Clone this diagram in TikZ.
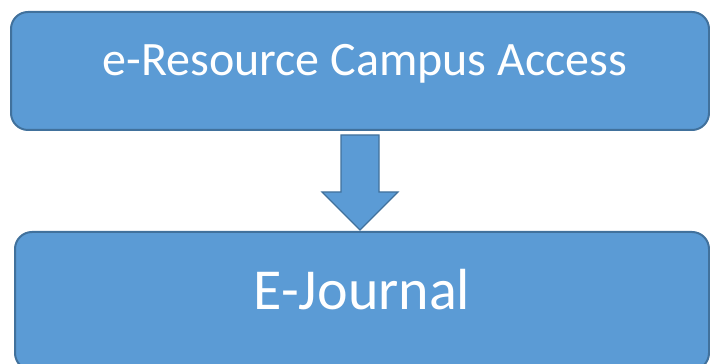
\documentclass[tikz,border=0pt]{standalone}
\usepackage{fontspec}
\setmainfont{Carlito}
\definecolor{boxfill}{HTML}{5B9BD5}
\definecolor{boxline}{HTML}{41719C}
\begin{document}
\begin{tikzpicture}[x=1pt,y=1pt,
  blockbox/.style={draw=boxline,fill=boxfill,line width=2pt,rounded corners=17pt},
  lbl/.style={text=white,inner sep=0pt}]
\useasboundingbox (0,0) rectangle (710,364);
\clip (0,0) rectangle (710,364);
\draw[blockbox] (11,234) rectangle (709,352);
\node[lbl,font=\fontsize{48}{58}\selectfont] (top) at (365,300) {e-Resource Campus Access};
\draw[blockbox] (15,-6) rectangle (709,132);
\node[lbl,font=\fontsize{58}{70}\selectfont] (bot) at (362,74) {E-Journal};
\draw[draw=boxline,fill=boxfill,line width=1.2pt,line join=miter]
  (341,229) -- (379,229) -- (379,172) -- (398,172) -- (360,134) -- (322,172) -- (341,172) -- cycle;
\end{tikzpicture}
\end{document}
